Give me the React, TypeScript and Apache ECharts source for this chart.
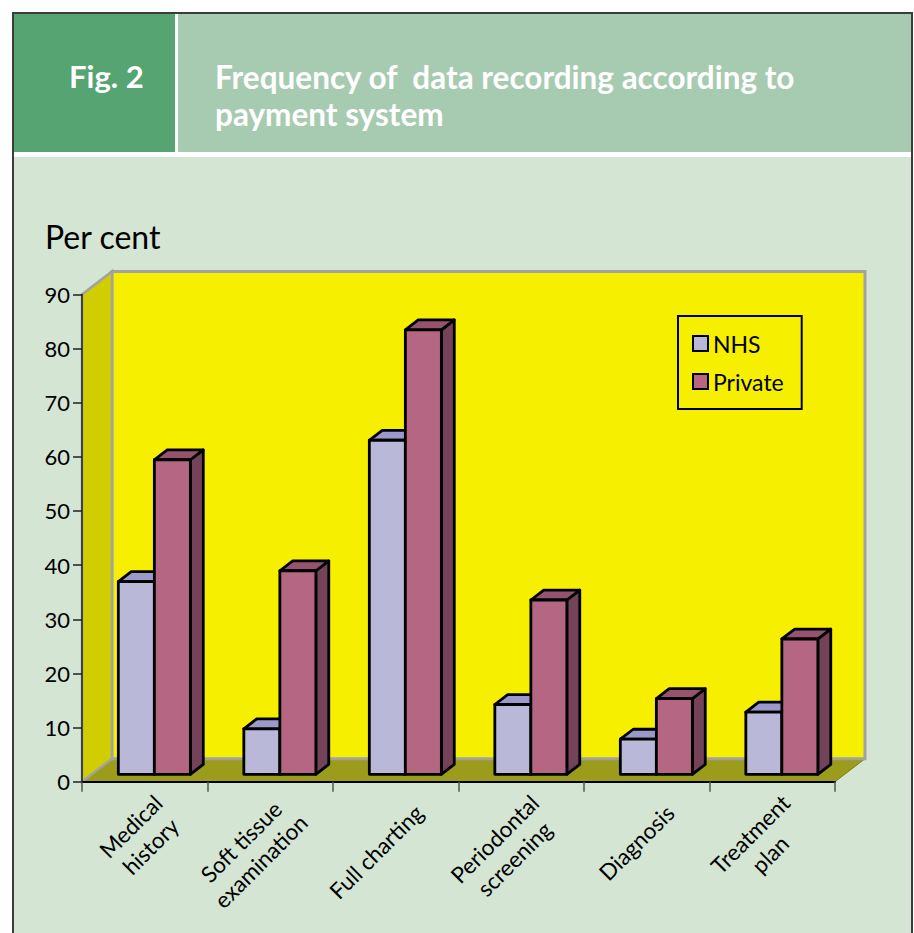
import React, { useEffect, useRef } from 'react';
import * as echarts from 'echarts';

const categories = [
  'Medical\nhistory',
  'Soft tissue\nexamination',
  'Full charting',
  'Periodontal\nscreening',
  'Diagnosis',
  'Treatment\nplan',
];
const seriesNames = ['NHS', 'Private'];
const nhsValues = [35.6, 8.4, 61.7, 12.9, 6.5, 11.5];
const privateValues = [58.1, 37.6, 82.1, 32.2, 14.0, 25.0];
const yMin = 0;
const yMax = 90;
const yStep = 10;

const FONT = 'Lato, "Open Sans", "DejaVu Sans", sans-serif';
const DEPTH_X = 30;
const DEPTH_Y = -23;
const BAR_FRONT = 0.32;
const BAR_DEPTH = 0.43;
const BAR_WIDTH = 0.287;

const COLORS = [
  { front: '#bab8d9', top: '#9b99ca', side: '#7c7aa9' },
  { front: '#b46683', top: '#955370', side: '#744259' },
];

function barRenderer(seriesIndex: number) {
  const colors = COLORS[seriesIndex];
  return (params: any, api: any) => {
    const i = api.value(0);
    const v = api.value(1);
    const top = api.coord([i, v]);
    const base = api.coord([i, 0]);
    const band = api.size([1, 0])[0];
    const w = band * BAR_WIDTH;
    const ox = DEPTH_X * BAR_FRONT;
    const oy = DEPTH_Y * BAR_FRONT;
    const sx = DEPTH_X * BAR_DEPTH;
    const sy = DEPTH_Y * BAR_DEPTH;
    const xl = top[0] - w + seriesIndex * w + ox;
    const xr = xl + w;
    const yt = top[1] + oy;
    const yb = base[1] + oy;
    const st = { stroke: '#000', lineWidth: 2.8, lineJoin: 'round' };
    return {
      type: 'group',
      children: [
        {
          type: 'polygon',
          shape: { points: [[xr, yt], [xr + sx, yt + sy], [xr + sx, yb + sy], [xr, yb]] },
          style: { fill: colors.side, ...st },
        },
        {
          type: 'polygon',
          shape: { points: [[xl, yt], [xr, yt], [xr + sx, yt + sy], [xl + sx, yt + sy]] },
          style: { fill: colors.top, ...st },
        },
        {
          type: 'rect',
          shape: { x: xl, y: yt, width: w, height: yb - yt },
          style: { fill: colors.front, ...st },
        },
      ],
    };
  };
}

function frameRenderer(params: any, api: any) {
  const cs = params.coordSys;
  const x0 = cs.x;
  const y0 = cs.y;
  const x1 = cs.x + cs.width;
  const y1 = cs.y + cs.height;
  const dx = DEPTH_X;
  const dy = DEPTH_Y;
  return {
    type: 'group',
    children: [
      {
        type: 'polygon',
        shape: { points: [[x0, y1], [x1, y1], [x1 + dx, y1 + dy], [x0 + dx, y1 + dy]] },
        style: { fill: '#9b9b1c', stroke: '#7d7d10', lineWidth: 1 },
      },
      {
        type: 'rect',
        shape: { x: x0 + dx, y: y0 + dy, width: cs.width, height: cs.height },
        style: { fill: '#f6f000', stroke: '#a2a2a2', lineWidth: 3 },
      },
      {
        type: 'polygon',
        shape: { points: [[x0, y1], [x0, y0], [x0 + dx, y0 + dy], [x0 + dx, y1 + dy]] },
        style: { fill: '#d0cd00', stroke: '#a2a2a2', lineWidth: 2.5 },
      },
    ],
  };
}

export default function App() {
  const ref = useRef<HTMLDivElement>(null);
  useEffect(() => {
    if (!ref.current) return;
    const chart = echarts.init(ref.current, null, { renderer: 'svg' });
    const option: any = {
      animation: false,
      backgroundColor: 'transparent',
      textStyle: { fontFamily: FONT },
      graphic: [
        { type: 'rect', z: -100, shape: { x: 13, y: 13, width: 899, height: 940 }, style: { fill: '#d4e5d4', stroke: '#3c3c3c', lineWidth: 2 } },
        { type: 'rect', z: -99, shape: { x: 14, y: 14, width: 161, height: 138 }, style: { fill: '#55a471' } },
        { type: 'rect', z: -99, shape: { x: 178, y: 14, width: 733, height: 138 }, style: { fill: '#a7cbb1' } },
        { type: 'rect', z: -99, shape: { x: 14, y: 152, width: 897, height: 5 }, style: { fill: '#ffffff' } },
        { type: 'rect', z: -99, shape: { x: 175, y: 14, width: 3, height: 138 }, style: { fill: '#ffffff' } },
        { type: 'text', z: 10, x: 69, y: 76, style: { text: 'Fig. 2', fill: '#ffffff', fontFamily: FONT, fontWeight: 'bold', fontSize: 31, verticalAlign: 'middle' } },
        { type: 'text', z: 10, x: 215, y: 77, style: { text: 'Frequency of  data recording according to', fill: '#ffffff', fontFamily: FONT, fontWeight: 'bold', fontSize: 31.5, verticalAlign: 'middle' } },
        { type: 'text', z: 10, x: 215, y: 114, style: { text: 'payment system', fill: '#ffffff', fontFamily: FONT, fontWeight: 'bold', fontSize: 31.5, verticalAlign: 'middle' } },
        { type: 'text', z: 10, x: 45, y: 236, style: { text: 'Per cent', fill: '#000000', fontFamily: FONT, fontSize: 32, verticalAlign: 'middle' } },
      ],
      legend: {
        orient: 'vertical',
        left: 678,
        top: 316,
        data: seriesNames.map((n) => ({ name: n, icon: 'rect' })),
        itemWidth: 15,
        itemHeight: 15,
        itemGap: 15,
        padding: [16, 18, 16, 14],
        borderColor: '#000',
        borderWidth: 2,
        backgroundColor: 'transparent',
        textStyle: { fontSize: 23, color: '#000', fontFamily: FONT },
        itemStyle: { borderColor: '#000', borderWidth: 2 },
        selectedMode: false,
      },
      grid: { left: 82, right: 79, top: 294.4, bottom: 151.3, containLabel: false },
      xAxis: {
        type: 'category',
        data: categories,
        boundaryGap: true,
        axisLine: { show: true, lineStyle: { color: '#000', width: 2 } },
        axisTick: { show: true, length: 10, lineStyle: { color: '#555', width: 1.5 } },
        axisLabel: {
          interval: 0,
          rotate: 45,
          margin: 8,
          color: '#000',
          fontSize: 22.5,
          fontFamily: FONT,
          lineHeight: 28,
          padding: [60, -3, 0, 0],
          formatter: (val: string) => val.split('\n').map((s) => '{c|' + s + '}').join('\n'),
          rich: { c: { align: 'center', fontSize: 22.5, lineHeight: 28, fontFamily: FONT, color: '#000' } },
        },
        splitLine: { show: false },
      },
      yAxis: {
        type: 'value',
        min: yMin,
        max: yMax,
        interval: yStep,
        axisLine: { show: true, lineStyle: { color: '#222', width: 1.5 } },
        axisTick: { show: true, length: 9, lineStyle: { color: '#222', width: 1.5 } },
        axisLabel: { fontSize: 22, color: '#000', margin: 12, fontFamily: FONT },
        splitLine: { show: false },
      },
      series: [
        {
          type: 'custom',
          name: 'frame',
          z: -1,
          silent: true,
          renderItem: frameRenderer,
          data: [[0, 0]],
        },
        {
          type: 'custom',
          name: seriesNames[0],
          z: 2,
          itemStyle: { color: COLORS[0].front },
          renderItem: barRenderer(0),
          data: nhsValues.map((v, i) => [i, v]),
        },
        {
          type: 'custom',
          name: seriesNames[1],
          z: 3,
          itemStyle: { color: COLORS[1].front },
          renderItem: barRenderer(1),
          data: privateValues.map((v, i) => [i, v]),
        },
      ],
    };
    chart.setOption(option);
    return () => chart.dispose();
  }, []);
  return (
    <div
      ref={ref}
      style={{ position: 'absolute', left: 0, top: 0, width: 914, height: 933, background: '#ffffff' }}
    />
  );
}
